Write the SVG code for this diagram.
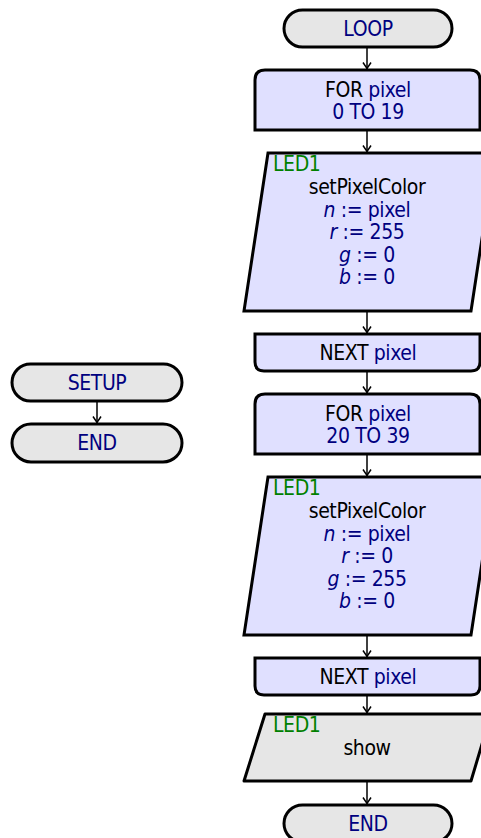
<svg xmlns="http://www.w3.org/2000/svg" width="481" height="838" viewBox="0 0 481 838">
<style>
.term{fill:#e6e6e6;stroke:#000;stroke-width:3}
.blk{fill:#e0e0ff;stroke:#000;stroke-width:3}
.gry{fill:#e6e6e6;stroke:#000;stroke-width:3;stroke-linejoin:round}
text{font-family:"DejaVu Sans Condensed","DejaVu Sans",sans-serif;font-size:21px;letter-spacing:-0.4px}
.c{text-anchor:middle}
.k{fill:#000}
.v{fill:#000080}
.g{fill:#008000}
.i{font-style:italic}
.con{stroke:#000;stroke-width:1.5;fill:none;marker-end:url(#ah)}
</style>
<defs>
<marker id="ah" viewBox="0 0 10 10" refX="9.5" refY="5" markerWidth="10" markerHeight="10" markerUnits="userSpaceOnUse" orient="auto">
<path d="M3,1 L9,5 L3,9" fill="none" stroke="#000" stroke-width="1.5"/>
</marker>
</defs>
<g id="connectors">
<line class="con" x1="367" y1="47" x2="367" y2="69"/>
<line class="con" x1="367" y1="130" x2="367" y2="152"/>
<line class="con" x1="367" y1="311" x2="367" y2="333"/>
<line class="con" x1="367" y1="371" x2="367" y2="393"/>
<line class="con" x1="367" y1="454" x2="367" y2="476"/>
<line class="con" x1="367" y1="635" x2="367" y2="657"/>
<line class="con" x1="367" y1="695" x2="367" y2="713"/>
<line class="con" x1="367" y1="781" x2="367" y2="804"/>
<line class="con" x1="97" y1="401" x2="97" y2="423"/>
</g>
<g id="loop">
<rect class="term" x="284" y="10" width="168" height="37" rx="18.5"/>
<text class="c v" x="368" y="36">LOOP</text>
</g>
<g id="for1">
<path class="blk" d="M255,130 V80 Q255,70 265,70 H470 Q480,70 480,80 V130 Z"/>
<text class="c" x="368" y="97"><tspan class="k">FOR </tspan><tspan class="v">pixel</tspan></text>
<text class="c v" x="368" y="119">0 TO 19</text>
</g>
<g id="set1">
<path class="blk" d="M268,153 H495 L471,311 H244 Z"/>
<text class="g" x="273" y="171">LED1</text>
<text class="c k" x="367" y="194">setPixelColor</text>
<text class="c v" x="367" y="217"><tspan class="i">n</tspan> := pixel</text>
<text class="c v" x="367" y="239"><tspan class="i">r</tspan> := 255</text>
<text class="c v" x="367" y="262"><tspan class="i">g</tspan> := 0</text>
<text class="c v" x="367" y="284"><tspan class="i">b</tspan> := 0</text>
</g>
<g id="next1">
<path class="blk" d="M255,334 H480 V362 Q480,371 471,371 H264 Q255,371 255,362 Z"/>
<text class="c" x="368" y="360"><tspan class="k">NEXT </tspan><tspan class="v">pixel</tspan></text>
</g>
<g id="for2">
<path class="blk" d="M255,454 V404 Q255,394 265,394 H470 Q480,394 480,404 V454 Z"/>
<text class="c" x="368" y="421"><tspan class="k">FOR </tspan><tspan class="v">pixel</tspan></text>
<text class="c v" x="368" y="443">20 TO 39</text>
</g>
<g id="set2">
<path class="blk" d="M268,477 H495 L471,635 H244 Z"/>
<text class="g" x="273" y="495">LED1</text>
<text class="c k" x="367" y="518">setPixelColor</text>
<text class="c v" x="367" y="541"><tspan class="i">n</tspan> := pixel</text>
<text class="c v" x="367" y="563"><tspan class="i">r</tspan> := 0</text>
<text class="c v" x="367" y="586"><tspan class="i">g</tspan> := 255</text>
<text class="c v" x="367" y="608"><tspan class="i">b</tspan> := 0</text>
</g>
<g id="next2">
<path class="blk" d="M255,658 H480 V686 Q480,695 471,695 H264 Q255,695 255,686 Z"/>
<text class="c" x="368" y="684"><tspan class="k">NEXT </tspan><tspan class="v">pixel</tspan></text>
</g>
<g id="show">
<path class="gry" d="M265,714 H491 L471,781 H244 Z"/>
<text class="g" x="273" y="732">LED1</text>
<text class="c k" x="367" y="755">show</text>
</g>
<g id="end2">
<rect class="term" x="284" y="805" width="168" height="37" rx="18.5"/>
<text class="c v" x="368" y="831">END</text>
</g>
<g id="setup">
<rect class="term" x="12" y="364" width="170" height="37" rx="18.5"/>
<text class="c v" x="97" y="390">SETUP</text>
</g>
<g id="end1">
<rect class="term" x="12" y="424" width="170" height="38" rx="19"/>
<text class="c v" x="97" y="450">END</text>
</g>
</svg>
